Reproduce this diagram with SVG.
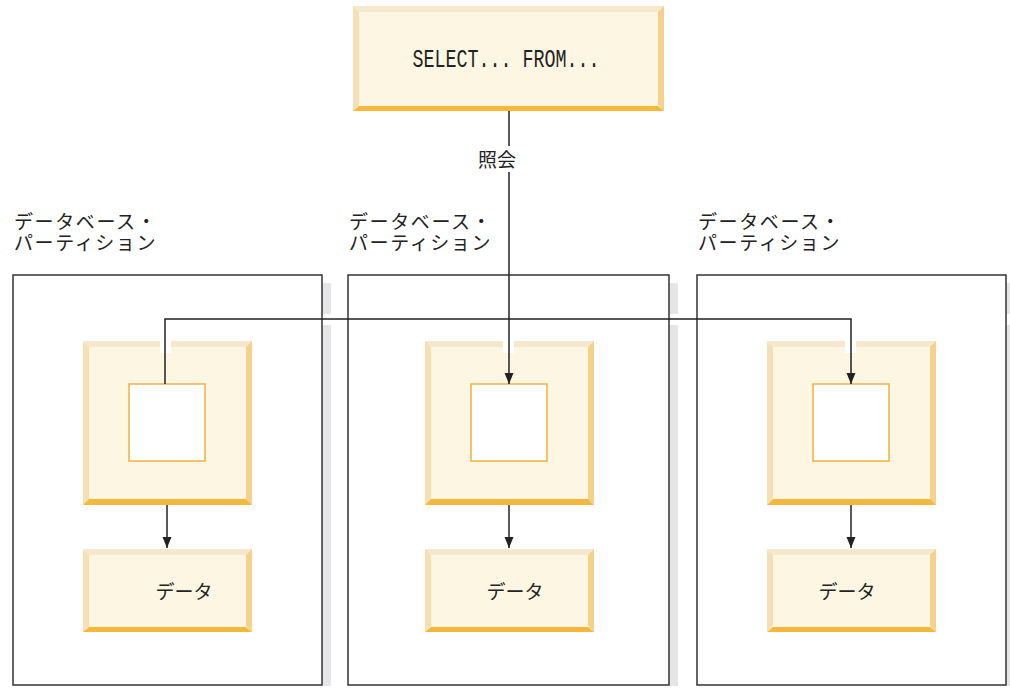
<svg xmlns="http://www.w3.org/2000/svg" xmlns:xlink="http://www.w3.org/1999/xlink" width="1010" height="688" viewBox="0 0 1010 688">
<style>
.part{fill:#fff;stroke:#333;stroke-width:1.5}
.shadow{fill:#e6e6e8}
.fill{fill:#fdf6e3}
.bt{fill:#f5e8cc}
.bl{fill:#f5dfb5}
.br{fill:#f7d08c}
.bb{fill:#f5b83d}
.inner{fill:#fff;stroke:#f0b040;stroke-width:1.5}
.conn{fill:none;stroke:#222;stroke-width:1.5}
.lbl{font-family:"Noto Sans CJK JP","Liberation Sans",sans-serif;fill:#222}
.plbl{font-family:"Noto Sans CJK JP","Liberation Sans",sans-serif;fill:#222;font-size:19px;letter-spacing:1.6px}
.mono{font-family:"Liberation Mono",monospace;fill:#222}
</style>
<defs>
<marker id="arr" markerUnits="userSpaceOnUse" markerWidth="12" markerHeight="12" viewBox="0 0 12 12" refX="11" refY="6" orient="auto">
<path d="M0,1.5 L11,6 L0,10.5 Z" fill="#222"/>
</marker>
<g id="proc">
<rect class="fill" x="0" y="0" width="169" height="164"/>
<polygon class="bt" points="0,0 169,0 163,6 6,6"/>
<polygon class="bl" points="0,0 6,6 6,158 0,164"/>
<polygon class="br" points="169,0 169,164 163,158 163,6"/>
<polygon class="bb" points="0,164 6,158 163,158 169,164"/>
<rect class="inner" x="46" y="43" width="76" height="77"/>
</g>
<g id="data">
<rect class="fill" x="0" y="0" width="169" height="83"/>
<polygon class="bt" points="0,0 169,0 163,6 6,6"/>
<polygon class="bl" points="0,0 6,6 6,77 0,83"/>
<polygon class="br" points="169,0 169,83 163,77 163,6"/>
<polygon class="bb" points="0,83 6,78 163,78 169,83"/>
</g>
</defs>
<rect width="1010" height="688" fill="#fff"/>

<g id="query">
<rect class="fill" x="353" y="6" width="311" height="105"/>
<polygon class="bt" points="353,6 664,6 658,12 359,12"/>
<polygon class="bl" points="353,6 359,12 359,105 353,111"/>
<polygon class="br" points="664,6 664,111 658,105 658,12"/>
<polygon class="bb" points="353,111 359,106 658,106 664,111"/>
<text class="mono" x="0" y="0" font-size="18" text-anchor="middle" transform="translate(506 67) scale(1.02 1.4)">SELECT... FROM...</text>
</g>

<g id="partition1">
<rect class="shadow" x="322" y="283" width="9" height="31"/>
<rect class="shadow" x="322" y="325" width="9" height="361"/>
<rect class="part" x="13" y="275" width="309" height="410"/>
<text class="plbl"><tspan x="14" y="229">データベース・</tspan><tspan x="14" y="250">パーティション</tspan></text>
</g>
<g id="partition2">
<rect class="shadow" x="669" y="283" width="9" height="31"/>
<rect class="shadow" x="669" y="325" width="9" height="361"/>
<rect class="part" x="348" y="275" width="321" height="410"/>
<text class="plbl"><tspan x="349" y="229">データベース・</tspan><tspan x="349" y="250">パーティション</tspan></text>
</g>
<g id="partition3">
<rect class="shadow" x="1006" y="283" width="9" height="31"/>
<rect class="shadow" x="1006" y="325" width="9" height="361"/>
<rect class="part" x="697" y="275" width="309" height="410"/>
<text class="plbl"><tspan x="698" y="229">データベース・</tspan><tspan x="698" y="250">パーティション</tspan></text>
</g>

<g id="proc1"><use xlink:href="#proc" x="83" y="341"/></g>
<g id="proc2"><use xlink:href="#proc" x="425" y="341"/></g>
<g id="proc3"><use xlink:href="#proc" x="767" y="341"/></g>

<g id="data1"><use xlink:href="#data" x="83" y="549"/><text class="lbl" font-size="19" x="184" y="599" text-anchor="middle">データ</text></g>
<g id="data2"><use xlink:href="#data" x="425" y="549"/><text class="lbl" font-size="19" x="515" y="599" text-anchor="middle">データ</text></g>
<g id="data3"><use xlink:href="#data" x="767" y="549"/><text class="lbl" font-size="19" x="847" y="599" text-anchor="middle">データ</text></g>

<g id="connectors">
<rect x="160" y="341" width="11" height="12" fill="#fff"/>
<rect x="503" y="341" width="11" height="12" fill="#fff"/>
<rect x="845" y="341" width="11" height="12" fill="#fff"/>
<path class="conn" d="M509,111 V146"/>
<path class="conn" d="M509,172 V384" marker-end="url(#arr)"/>
<path class="conn" d="M165,384 V319 H851 V384" marker-end="url(#arr)"/>
<path class="conn" d="M167,505 V548" marker-end="url(#arr)"/>
<path class="conn" d="M509,505 V548" marker-end="url(#arr)"/>
<path class="conn" d="M851,505 V548" marker-end="url(#arr)"/>
<text class="lbl" font-size="19" x="497" y="167" text-anchor="middle">照会</text>
</g>
</svg>
